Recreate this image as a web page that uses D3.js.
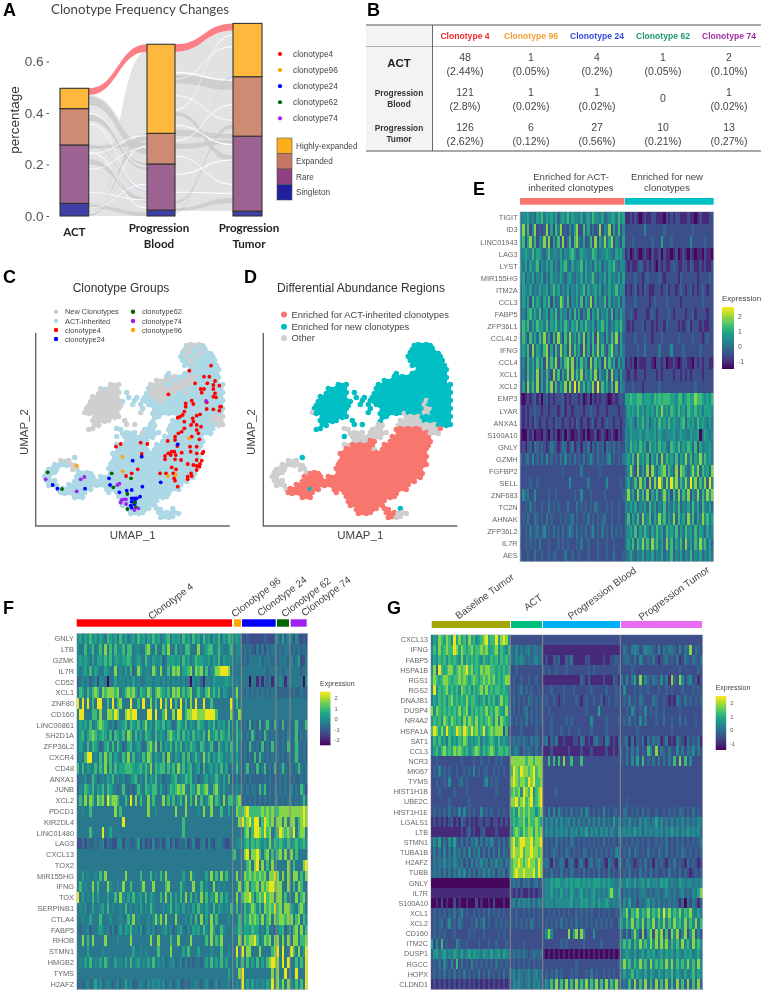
<!DOCTYPE html>
<html><head><meta charset="utf-8">
<script src="https://cdn.jsdelivr.net/npm/d3@7"></script>
<style>
html,body{margin:0;padding:0;background:#fff}
svg{display:block;filter:blur(0.45px)}
text{font-family:"Liberation Sans",Arial,sans-serif}
</style></head><body><svg id="fig" width="763" height="992"></svg>
<script>
// ---------- Panel A data
const stages=["ACT","Progression Blood","Progression Tumor"];
const stageLabels=[["ACT"],["Progression","Blood"],["Progression","Tumor"]];
const groupNames=["Singleton","Rare","Expanded","Highly-expanded"];
const groupTops={ACT:[.049,.276,.417,.496],"Progression Blood":[.023,.202,.321,.667],"Progression Tumor":[.019,.31,.541,.748]};
const yTicksA=[0,.2,.4,.6];
// [left low, left high, right low, right high]
const flowsPale1=[[0,.02,.33,.64],[0,.05,0,.33],[.05,.28,0,.30]];
const flowsDark1=[[.43,.465,.24,.28],[.37,.395,.18,.205],[.262,.272,.27,.285],[.20,.22,.055,.07],[.03,.045,.0,.015],[.0,.008,.295,.32]];
const flowsPaleUp1=[[.28,.47,.02,.30]];
const streaks1=[[.395,.4,.19,.195],[.355,.36,.10,.105],[.245,.249,.03,.035],[.24,.244,.31,.315],[.09,.093,.06,.065],[.03,.033,.12,.125],[.01,.013,.27,.275],[.18,.184,.265,.268]];
const flowsPale2=[[.02,.64,.02,.72]];
const flowsDark2=[[.515,.548,.49,.525],[.31,.335,.30,.318],[.39,.405,.21,.235],[.05,.058,.34,.355],[.02,.03,.05,.07],[.26,.28,.28,.295]];
const streaks2=[[.553,.56,.525,.53],[.41,.415,.70,.706],[.465,.469,.37,.374],[.35,.354,.275,.28],[.29,.294,.43,.435],[.23,.234,.12,.125],[.09,.094,.085,.09],[.16,.164,.215,.22],[.53,.533,.655,.66]];
const clonoFlows=[[.47,.496,.638,.667],[.638,.667,.72,.748]];
const blueFlows=[[.273,.275,.099,.101],[.013,.015,.539,.541]];
const clonotypeNames=["clonotype4","clonotype96","clonotype24","clonotype62","clonotype74"];
// ---------- Panel B data
const tableCols=["Clonotype 4","Clonotype 96","Clonotype 24","Clonotype 62","Clonotype 74"];
const tableCounts=[[48,1,4,1,2],[121,1,1,0,1],[126,6,27,10,13]];
const tablePcts=[["2.44%","0.05%","0.2%","0.05%","0.10%"],["2.8%","0.02%","0.02%",null,"0.02%"],["2.62%","0.12%","0.56%","0.21%","0.27%"]];
// ---------- Panels C, D: UMAP occupancy, one row per line: [row, first column, last column, class]
const umapSpans=[
[2,37,41,"n"],[3,37,42,"n"],[4,36,43,"n"],[5,36,44,"n"],[6,36,44,"n"],[7,37,45,"n"],[8,38,45,"n"],
[9,33,33,"n"],[9,37,45,"n"],[10,32,45,"n"],[11,30,45,"n"],[12,18,20,"n"],[12,28,46,"n"],[13,16,20,"n"],[13,28,46,"n"],
[14,15,20,"n"],[14,22,22,"n"],[14,27,46,"n"],[15,14,20,"n"],[15,23,23,"n"],[15,25,25,"n"],[15,27,46,"n"],
[16,13,21,"n"],[16,24,24,"n"],[16,26,39,"n"],[16,40,40,"o"],[16,41,46,"n"],
[17,13,21,"n"],[17,24,24,"n"],[17,26,26,"n"],[17,28,39,"n"],[17,40,40,"o"],[17,41,46,"n"],
[18,12,20,"n"],[18,26,26,"n"],[18,29,39,"n"],[18,40,41,"o"],[18,42,46,"n"],
[19,12,12,"o"],[19,13,20,"n"],[19,26,26,"n"],[19,29,34,"n"],[19,35,35,"o"],[19,36,39,"n"],[19,40,41,"o"],[19,42,46,"n"],
[20,14,20,"n"],[20,29,30,"n"],[20,35,38,"o"],[20,39,46,"n"],
[21,14,18,"n"],[21,22,22,"n"],[21,29,29,"n"],[21,34,39,"o"],[21,40,46,"n"],
[22,14,15,"n"],[22,22,22,"n"],[22,24,24,"n"],[22,28,29,"o"],[22,33,42,"o"],[22,43,46,"n"],
[23,13,14,"n"],[23,20,21,"o"],[23,27,29,"o"],[23,33,39,"a"],[23,40,43,"o"],[23,44,44,"a"],
[24,21,24,"o"],[24,26,30,"o"],[24,33,40,"a"],[24,41,43,"o"],
[25,20,20,"n"],[25,22,29,"o"],[25,32,41,"a"],
[26,22,25,"o"],[26,26,27,"a"],[26,31,41,"a"],
[27,20,21,"o"],[27,22,27,"a"],[27,30,41,"a"],
[28,20,26,"a"],[28,27,27,"o"],[28,29,40,"a"],
[29,19,40,"a"],[30,9,9,"n"],[30,19,40,"a"],[31,6,8,"o"],[31,19,40,"a"],
[32,4,9,"o"],[32,18,40,"a"],[33,3,5,"o"],[33,9,10,"o"],[33,18,39,"a"],
[34,2,4,"o"],[34,10,10,"o"],[34,11,13,"a"],[34,18,39,"a"],
[35,2,3,"o"],[35,10,14,"a"],[35,16,39,"a"],
[36,2,4,"o"],[36,9,15,"a"],[36,16,37,"a"],
[37,3,5,"o"],[37,8,15,"a"],[37,16,36,"a"],
[38,5,5,"o"],[38,6,10,"a"],[38,11,11,"n"],[38,12,13,"a"],[38,17,35,"a"],
[39,6,12,"a"],[39,18,18,"a"],[39,20,33,"a"],[40,9,11,"a"],[40,20,32,"a"],
[41,21,30,"a"],[42,21,29,"a"],[43,23,28,"a"],[43,30,31,"a"],[43,34,34,"n"],
[44,23,26,"a"],[44,30,32,"a"],[44,33,35,"o"],[45,31,32,"a"],[45,33,34,"o"]
];
// cells of panel C that belong to New Clonotypes: [row, first column, last column]
const newClonotypeSpans=[
[2,38,40],[3,37,38],[3,41,41],[4,37,38],[4,41,41],[5,37,37],[5,40,40],[6,38,38],[7,39,39],
[10,33,34],[10,38,39],[11,30,33],[11,36,39],[12,18,20],[12,28,31],[12,34,38],[13,16,16],[13,18,20],[13,29,37],
[14,15,20],[14,28,34],[14,37,37],[15,14,20],[15,29,33],[16,13,20],[16,30,31],[17,13,21],[18,12,20],[19,12,20],[19,26,26],
[20,14,20],[20,44,46],[21,14,18],[21,22,22],[21,44,46],[22,14,15],[22,22,22],[22,24,24],[22,45,46],[23,13,14],
[24,25,26],[31,6,8],[32,8,9],[33,9,10]
];
const clonotype4Pts=[[568,392],[633,377],[612,410],[628,410],[585,430],[645,423],[622,430],[640,435],[658,437],[602,447],[612,447],[605,458],[640,447],[645,460],[640,470],[648,472],[505,463],[575,482],[557,490],[580,492],[620,487],[660,500],[663,500],[620,507],[640,508],[658,512],[557,500],[553,515],[548,525],[540,530],[533,533],[600,523],[590,527],[553,545],[578,535],[580,545],[573,555],[590,555],[603,560],[553,565],[545,575],[535,580],[590,570],[595,580],[525,590],[575,590],[598,598],[503,603],[525,600],[362,612],[422,608],[442,612],[348,620],[590,620],[570,620],[532,618],[610,635],[515,635],[523,635],[505,640],[495,648],[512,645],[527,645],[545,638],[572,635],[590,640],[607,640],[495,658],[525,658],[543,660],[425,642],[563,672],[590,660],[605,662],[600,672],[590,678],[598,680],[580,675],[515,682],[528,688],[480,700],[498,700],[520,700],[573,700],[590,690],[563,710],[575,708],[522,715],[525,722],[563,718],[533,740],[413,688],[395,700],[378,708]];
const clonotype96Pts=[[230,677],[367,650],[368,694],[503,708],[527,705],[567,595]];
const clonotype24Pts=[[533,613],[398,662],[425,650],[327,715],[482,727],[330,735],[358,757],[380,752],[395,750],[427,740],[158,735],[172,746],[255,746],[420,770],[395,775],[403,775],[410,775],[395,785],[405,785],[392,797],[395,803],[403,793]];
const clonotype62Pts=[[143,697],[335,700],[393,715],[340,742],[186,747],[382,762],[405,788],[408,802],[382,807]];
const clonotype74Pts=[[137,718],[242,718],[253,711],[230,754],[352,735],[358,731],[618,483],[362,788],[372,778],[378,778],[378,792],[403,810],[415,805],[365,780]];
// ---------- Heatmap level key: each digit of a row is one cell's expression level
const levelKey=[0,1,2,3,4,5,6,7,8,9];
const levelColorPos=[.02,.12,.24,.32,.4,.48,.58,.68,.82,.97];
// ---------- Panel E
const genesE=["TIGIT","ID3","LINC01943","LAG3","LYST","MIR155HG","ITM2A","CCL3","FABP5","ZFP36L1","CCL4L2","IFNG","CCL4","XCL1","XCL2","EMP3","LYAR","ANXA1","S100A10","GNLY","GZMH","FGFBP2","SELL","ZNF683","TC2N","AHNAK","ZFP36L2","IL7R","AES"];
const levelsE=[
"455645365746564635657465546356475546345664756|1121210121122111021212211121101211122",
"483725823238262748232536822736242382548263725|2222222252222222322222222222322222222",
"572683725483826372824727843623728264836825426|2223222222232226222322222225222223222",
"456547466435745546354675346554476345565436564|1201210121021120211012012102101102110",
"546364573546463536574364557364536463546574355|2121123212121021211232112213211212112",
"463546354635364546435643546364574354636454636|2222322123222232122222132222221222232",
"365463546456357463546354645736456463546457455|1212312132112221231221232123121232122",
"364627465364726348637254637264826354726354625|2222322222123222232222212222222232222",
"353674647356264736452637362537264735463725364|2232122221232122223212222122312222122",
"475736475647365746475365736475463657463546574|2121222312212122132222121231222121122",
"375274637483627385273846374826372845263748263|2222322232212223222222322222322212322",
"464728365378262738462837462836274837426835264|2222232242222242222522223222222322222",
"352746374628374826378482637462837462837462635|1212021112210221201121012211021212211",
"342746382637428372648283748264738264372835263|2122122212222121222212212121222212222",
"262847382637482736482839284736482937463728254|2223222122222232222222222222232222222",
"101212312023121222312122212012021212210121232|6676677566657676777665775676687765657",
"212122322122122212312212222122322122212222122|4656575646564758564765756476575646665",
"212121321221221322122121321221231221232212212|4565365746356475647565467365647565464",
"100212011021021201202101121020112012101210212|5465556456556465455564565546556046545",
"121231432321243212431241231324132423143242322|5475647563756475643765746576372645564",
"323425232425232324252324232423532423245232324|5647385647264738475647365847365847564",
"222222222222222222322222224222222232222222222|3585283638285367837538287536858375638",
"222232232222222222222522222224222222252222232|4634738472838497384968375849583748395",
"253422522222322322222223225222322222322222223|4846384738264735846274837482648374858",
"223242322322423232224222423232324322232322322|5464635463746354735464735463746375463",
"232422432324232223232342322324232323422322322|4736473845736485736483746384736485746",
"323242342352324232423532423242352324232423232|4564736475364756375647364756374653645",
"223232324222322232323222324223222322232232222|4647375847385746384736473846374857463",
"322322422322323322242232232223222322232242223|3464354635463546354735463547354635464"];
const groupsE=["Enriched for ACT-inherited clonotypes","Enriched for new clonotypes"];
// ---------- Panel F
const genesF=["GNLY","LTB","GZMK","IL7R","CD52","XCL1","ZNF80","CD160","LINC00861","SH2D1A","ZFP36L2","CXCR4","CD48","ANXA1","JUNB","XCL2","PDCD1","KIR2DL4","LINC01480","LAG3","CXCL13","TOX2","MIR155HG","IFNG","TOX","SERPINB1","CTLA4","FABP5","RHOB","STMN1","HMGB2","TYMS","H2AFZ"];
const levelsF=[
"56465756465476564756456475646575645674656475647564756465746576|565|22322222232223|53635|4253232",
"54474574574847475574774554478547447584474547744484567745754457|455|34343242424344|34344|3434343",
"56565464665757466566764565475465563466656475645766556465746555|454|34344445344434|34443|5346224",
"54564746544654484546473486455486484474878466784878474568899984|444|44444444443444|44344|4444344",
"34545345255404464554546454455545545454545454405453155465555655|454|44404414143414|45414|4444405",
"47647578748788878457878647658747876574878575784575478575746544|584|43434343434344|33333|3433433",
"94949474994474947844494474944847494849474947484944944744444449|474|44444444444444|44444|4444444",
"49944477484488798448989944449949447944849947889988899997444448|448|44444444444444|44444|4444444",
"46564745787654535567476574685647657465347657465476546574656474|474|34373437347437|43734|3474347",
"46746787567647376574874756476547565478657475647565748567476574|475|43437434374343|43435|3473434",
"46547476534674747534674565347858374657475746576547645743754647|474|34374343734373|43437|3474343",
"45479945474857465475847454758746547385465474745754857465764546|464|34343737434343|43434|3474343",
"74746547475847475667776567575847677475748574674563745646474634|474|34734373473437|34743|4347434",
"34453475345465745453456745474657453445674557674534564557546473|353|34343333343433|34343|3433434",
"35476574657476543474343475476577464357678785476586785478546444|454|43434437473434|34343|5343752",
"47484874878497887447494847448474448474745748474847457847648477|578|34343434343434|43434|4343474",
"44544744444444484744444444448445444444484448444454844844474464|487|78977777878787|78888|8888898",
"44444444444444444494444444444444444444444474444444444444444444|448|97897994798784|88484|8847898",
"44444744449446444444444444444444444444444474444444444444444444|444|47847998797845|79878|7947884",
"22424334345243225524433462423252342452423435235224525324543224|455|56757676565857|67657|5675675",
"44444444444444444444444444444444444444444444444444444444444444|744|48948897478474|78484|8474444",
"44444444444444444444444444444444444444444444444444444444444444|444|44784894847484|44448|4744489",
"44645445474844444448444447444745474844444464485444464847484744|484|48787878784889|84848|4884748",
"47454484744485445484474445844484444784444754448447454484545444|458|47847784878998|88448|4748744",
"94645474644464474854647456474654474847464748474648474658474644|484|78897478797884|88474|4484784",
"45453464456474544547454546454754445457465464546475465474654547|474|47568757487879|78488|6547864",
"44544644474445444544748454445458584844484445464748464847444454|447|47687875847848|78878|8478475",
"43445344565453534646574546345453445645345643546564754864475444|557|56657664547442|56735|4784847",
"44847484444844445444484444444844844447448444484444474847584444|448|48788974587848|84848|4884778",
"44446444445444444444446445454444744448444464744464444544474454|494|94884448444478|94944|9748469",
"45464745464754464546474564546474545345534535343443464746474644|474|74746474647899|84949|4474749",
"44444444444444444444444444444444444444444444444444444444444464|448|94444444444484|84494|4494449",
"34345346453454345346453345435454545345345334344543454345344453|454|94646454546594|85848|5474749"];
const groupsF=["Clonotype 4","Clonotype 96","Clonotype 24","Clonotype 62","Clonotype 74"];
// ---------- Panel G
const genesG=["CXCL13","IFNG","FABP5","HSPA1B","RGS1","RGS2","DNAJB1","DUSP4","NR4A2","HSPA1A","SAT1","CCL3","NCR3","MKI67","TYMS","HIST1H1B","UBE2C","HIST1H1E","LGALS1","LTB","STMN1","TUBA1B","H2AFZ","TUBB","GNLY","IL7R","S100A10","XCL1","XCL2","CD160","ITM2C","DUSP1","RGCC","HOPX","CLDND1"];
const levelsG=[
"46587687596867586756789677968985|2222222222222|2222222222222222222222222222222|222222222222222222222222222222222",
"57586787798687678677878667857657|4353434534434|1111111111111111111111111111111|2432454235443252434432524382432",
"46576757676585767676576576757676|4354543434534|1211323113241111122111112112232|2343242532324212342324124324324",
"58397678867878978676878877676767|2232222222222|3232232223222222223232222222223|2222322222222222222222322222232",
"68767887677878767876787878676788|2322322322322|1111111111111113213111112111321|4252462825324325241832852452312",
"59576786767587675767868676776765|2323423232232|2223222232223222222322222322232|2522232322322232232322232223232",
"46576757867676867765675767568675|2423232432323|2322321232222321232232231232232|2324232432224322321214324232323",
"85876767676867857676768676876585|2323234232323|2232222222222222232222622222222|2232532325232322322222322222222",
"57675876876758687686767875858765|3232324232323|2223222223232222222522222322223|2324232524222322422322423222322",
"79868697679879879786796787888272|2222322222322|2223222322322232222322222322222|2222223222222222222322222222222",
"47575647565768756567465676575654|3434343243432|3413241121112214312134221431213|2341413241424341241214321423241",
"46757867687876756787576787577676|3453243432423|1112111111211112111211111211212|3242424232752824324225242435242",
"22322222222232222322322322323222|8888887887888|2272727282272227222222222222222|3242526272324242424272827252222",
"23252323223223232523233223232322|7987988789788|2222222222222222222222222222222|2222222222222222222222222222222",
"22322325222342322222235232322222|8987887989778|2222222222222222222222222222222|2222222222222222222222222222222",
"22232222232222322222222222322222|7878598795789|2222232222222222222222222222222|2222222222222222222222222222222",
"22222223222222232222222222222222|8897897896789|2222222222222222222222222222222|2232222222222222222222222222222",
"23232324232525232322523232232322|6758787877578|3252525323242324253232325232332|2432323242322322323232432324232",
"12121212312142121212212212212121|6767786877876|3535353534535353435353535343635|3435343535434635343534353534354",
"11111111111121231211231111211111|5787687886878|3545354545354535463545354535436|4545464535454545354645354645453",
"35362425363242424352424353242424|8978998897889|2323242323243232323232324232323|3232323232322323242323232323234",
"24242524253424252435242424252432|8988978898878|2323432324323232432323232323254|2324243232423243242323243232323",
"24343534354342425243534243534243|7889878988798|3431423431342134213423432143215|3243212324231323213242321423212",
"34342424243535242424353534243424|7898898889798|2324232423243232423232423242323|2324232423242322324232423212323",
"00000000000000000000000000000000|3434243423423|4546566556565665656566656565545|5465464564645546564544654554545",
"11111111111111111111111111111111|2121211212122|4546454645465456454564545468546|2434343454343443454343453435468",
"00102010020100100020100102000100|4535454535354|4555455555564546564564655654545|3536342434635353434343130424313",
"23232323242352322323232423232322|3232232323232|2232323232322323232322323232232|5684768576857685968576857685464",
"23234235232432223242352322323232|3232323243232|2323232423232423232323232323224|6475847584758475847586758475847",
"23232322232222232322232222232322|2222222222222|2585222222826828522252222222222|4252585282682858272858258258252",
"62527232225322322223222322322232|2222232222222|2222222323222222322222232222223|5757475857585848584757485748575",
"35645645465464564655465464564654|3434343234334|1010101010101010101010101010101|4565464564656456465646546564564",
"23242532527242325232323232423232|2323232323232|2222222222222322222222222222223|5857475857485757485847575857485",
"23232423242324232324232423232423|4535434534534|2323242322232322232423223232322|4645746546465465465746546457465",
"12121212121212121212121212121212|3545434535453|3537383738373837483748373837483|3437383738373837383738373837383"];
const groupsG=["Baseline Tumor","ACT","Progression Blood","Progression Tumor"];

// ---------- Drawing
const svg=d3.select("#fig");
const lato='Lato,"Liberation Sans",sans-serif';
const txt=(g,x,y,s,o={})=>g.append("text").attr("x",x).attr("y",y).text(s)
  .attr("font-size",o.size||10).attr("fill",o.fill||"#444").attr("text-anchor",o.anchor||"start")
  .attr("font-weight",o.weight||null).style("font-family",o.family||null)
  .attr("transform",o.rot!=null?`rotate(${o.rot},${x},${y})`:null).attr("dominant-baseline",o.base||null);
[["A",3,16],["B",367,16],["C",3,283],["D",244,283],["E",473,195],["F",3,614],["G",387,614]]
 .forEach(d=>txt(svg,d[1],d[2],d[0],{size:18,weight:"bold",fill:"#000"}));

// --- A
(function(){
 const g=svg.append("g");
 const y=d3.scaleLinear([0,.748],[216,23.4]);
 const xBand={ACT:[60,88.7],"Progression Blood":[147,175],"Progression Tumor":[233,262]};
 const labelNudge={ACT:0,"Progression Blood":-2,"Progression Tumor":1.5};
 const area=(x0,x1)=>d=>d3.area().x(p=>p.x).y0(p=>y(p.a)).y1(p=>y(p.b)).curve(d3.curveBumpX)
   ([{x:x0,a:d[0],b:d[1]},{x:x1,a:d[2],b:d[3]}]);
 const [l1,r1]=[xBand.ACT[1],xBand["Progression Blood"][0]],[l2,r2]=[xBand["Progression Blood"][1],xBand["Progression Tumor"][0]];
 const draw=(data,x0,x1,fill,op)=>g.append("g").selectAll("path").data(data).join("path").attr("d",area(x0,x1)).attr("fill",fill).attr("opacity",op);
 draw(flowsPaleUp1,l1,r1,"#e2e2e2",.85);
 draw(flowsPale1,l1,r1,"#e2e2e2",.95);
 draw(flowsPale2,l2,r2,"#e2e2e2",1);
 draw(flowsDark1,l1,r1,"#c8c8c8",.75);
 draw(flowsDark2,l2,r2,"#c8c8c8",.75);
 draw(streaks1,l1,r1,"#fff",.85);
 draw(streaks2,l2,r2,"#fff",.85);
 draw([blueFlows[0]],l1,r1,"#9a9aff",.6);
 draw([blueFlows[1]],l2,r2,"#9a9aff",.7);
 draw([clonoFlows[0]],l1,r1,"#fb7f84",1);
 draw([clonoFlows[1]],l2,r2,"#fb7f84",1);
 const fills=["#3f3fa8","#9c6292","#cd8b73","#fdb83e"];
 stages.forEach(s=>{let lo=0;groupTops[s].forEach((t,i)=>{
   g.append("rect").attr("x",xBand[s][0]).attr("width",xBand[s][1]-xBand[s][0]).attr("y",y(t)).attr("height",y(lo)-y(t))
    .attr("fill",fills[i]).attr("stroke","#333").attr("stroke-width",1.1);lo=t;});
   stageLabels[stages.indexOf(s)].forEach((t,k)=>txt(g,(xBand[s][0]+xBand[s][1])/2+labelNudge[s],s==="ACT"?236:232+k*15.5,t,{size:11.6,weight:"bold",fill:"#222",anchor:"middle",family:lato}));
 });
 const ax=g.append("g").attr("transform","translate(49,0)").call(d3.axisLeft(y).tickValues(yTicksA).tickFormat(d3.format(".1f")).tickSize(2.5));
 ax.select(".domain").remove();ax.selectAll("text").attr("font-size",13.5).attr("fill","#555").style("font-family","Liberation Sans");
 ax.selectAll("line").attr("stroke","#555");
 txt(g,19,120,"percentage",{size:13.5,anchor:"middle",rot:-90,fill:"#333"});
 txt(g,51,13.5,"Clonotype Frequency Changes",{size:13.3,family:lato,fill:"#444"});
 const cols=["#f00","#ffa500","#00f","#060","#a020f0"];
 const ly=d3.scalePoint(clonotypeNames,[54,118.3]);
 clonotypeNames.forEach((n,i)=>{g.append("circle").attr("cx",280).attr("cy",ly(n)).attr("r",2.1).attr("fill",cols[i]);
   txt(g,293,ly(n)+3,n,{size:8.3,fill:"#444"});});
 const lg=[...groupNames].reverse(),lf=["#fcaf1a","#c47862","#8f3f82","#1f1f9f"];
 const ls=d3.scaleBand(lg,[138,200]);
 lg.forEach((n,i)=>{g.append("rect").attr("x",277).attr("y",ls(n)).attr("width",15).attr("height",ls.bandwidth()).attr("fill",lf[i]).attr("stroke","#555").attr("stroke-width",.6);
   txt(g,296,ls(n)+10.5,n,{size:8.2,fill:"#444"});});
})();

// --- B
(function(){
 const g=svg.append("g");
 g.append("rect").attr("x",366).attr("y",25).attr("width",66.5).attr("height",126).attr("fill","#f3f3f3");
 const ln=(x1,y1,x2,y2,c,w)=>g.append("line").attr("x1",x1).attr("y1",y1).attr("x2",x2).attr("y2",y2).attr("stroke",c).attr("stroke-width",w);
 ln(366,25,761,25,"#a8a8a8",1.8);ln(366,46.5,761,46.5,"#999",.8);ln(366,151,761,151,"#a8a8a8",1.8);ln(432.5,25,432.5,151,"#444",.8);
 const x=d3.scalePoint(tableCols,[465,729]);
 const hc=["#ef2b2b","#f5a033","#2f4ce0","#1e9a6a","#a02fa0"];
 tableCols.forEach((c,i)=>txt(g,x(c),39,c,{size:8.6,weight:"bold",fill:hc[i],anchor:"middle"}));
 const rowY=[57,91.7,126.7];
 txt(g,399,67,"ACT",{size:11.5,weight:"bold",anchor:"middle",fill:"#222"});
 [["Progression","Blood"],["Progression","Tumor"]].forEach((r,i)=>r.forEach((t,k)=>txt(g,399,96+i*35+k*11,t,{size:8.3,weight:"bold",anchor:"middle",fill:"#333"})));
 tableCounts.forEach((row,r)=>row.forEach((v,c)=>{
   const p=tablePcts[r][c],cx=x(tableCols[c]);
   if(p===null){txt(g,cx,102,v,{size:10.5,anchor:"middle"});return;}
   txt(g,cx,rowY[r]+4,v,{size:10.5,anchor:"middle"});
   txt(g,cx,rowY[r]+18,`(${p})`,{size:10.5,anchor:"middle"});
 }));
})();

// --- C, D
(function(){
 const cellU=c=>107+12*c+6,cellV=r=>285+12*r+6;
 const cells=[];umapSpans.forEach(([r,a,b,k])=>{for(let c=a;c<=b;c++)cells.push({r,c,k});});
 const isNew=new Set();newClonotypeSpans.forEach(([r,a,b])=>{for(let c=a;c<=b;c++)isNew.add(r+"_"+c);});
 const panel=(ox,title,titleX)=>{
   const g=svg.append("g");
   const x=d3.scaleLinear([107,695],[ox,ox+196]),y=d3.scaleLinear([285,858],[335,526]);
   g.append("path").attr("d",d3.line()([[ox,333],[ox,526],[ox+194,526]])).attr("fill","none").attr("stroke","#666").attr("stroke-width",1.4);
   txt(g,ox+97,538.5,"UMAP_1",{size:11.5,anchor:"middle",fill:"#444"});
   txt(g,ox-8,432,"UMAP_2",{size:11.5,anchor:"middle",rot:-90,fill:"#444"});
   txt(g,titleX,292,title,{size:12,anchor:"middle",fill:"#333"});
   return {g,x,y};
 };
 const cx=(s,d)=>s(cellU(d.c)+(d.r%2?-3:3));
 const cy=(s,d)=>s(cellV(d.r)+(d.c%2?1.5:-1.5));
 // C
 const C=panel(35.7,"Clonotype  Groups",121);
 C.g.append("g").selectAll("circle").data(cells).join("circle")
   .attr("cx",d=>cx(C.x,d)).attr("cy",d=>cy(C.y,d)).attr("r",2.75)
   .attr("fill",d=>isNew.has(d.r+"_"+d.c)?"#cfcfcf":"#add8e6");
 const sets=[[clonotype4Pts,"#f00"],[clonotype24Pts,"#00f"],[clonotype62Pts,"#060"],[clonotype74Pts,"#a020f0"],[clonotype96Pts,"#ffa500"]];
 sets.forEach(([pts,col])=>C.g.append("g").selectAll("circle").data(pts).join("circle")
   .attr("cx",d=>C.x(d[0])).attr("cy",d=>C.y(d[1])).attr("r",1.9).attr("fill",col));
 [["New Clonotypes","#cfcfcf",56,311.7],["ACT-inherited","#add8e6",56,321],["clonotype4","#f00",56,330],["clonotype24","#00f",56,339],
  ["clonotype62","#060",133,311.7],["clonotype74","#a020f0",133,321],["clonotype96","#ffa500",133,330]].forEach(d=>{
   C.g.append("circle").attr("cx",d[2]).attr("cy",d[3]).attr("r",2.2).attr("fill",d[1]);
   txt(C.g,d[2]+9,d[3]+2.6,d[0],{size:7.4,fill:"#444"});});
 // D
 const D=panel(263.3,"Differential Abundance  Regions",361);
 const col={a:"#f8766d",n:"#00bfc4",o:"#cfcfcf"};
 D.g.append("g").selectAll("circle").data(cells).join("circle")
   .attr("cx",d=>cx(D.x,d)).attr("cy",d=>cy(D.y,d)).attr("r",2.75).attr("fill",d=>col[d.k]);
 [["Enriched for ACT-inherited clonotypes",col.a,284,314.5],["Enriched for new clonotypes",col.n,284,326.7],["Other",col.o,284,338]].forEach(d=>{
   D.g.append("circle").attr("cx",d[2]).attr("cy",d[3]).attr("r",3).attr("fill",d[1]);
   txt(D.g,291.5,d[3]+3.2,d[0],{size:9.4,fill:"#444"});});
})();

// --- heatmaps
let gid=0;
const levelPos=d3.scaleLinear(levelKey,levelColorPos);
function heatmap(o){
 const g=svg.append("g");
 const yB=d3.scaleBand(o.genes,[o.y0,o.y1]);
 const col=d=>d3.interpolateViridis(levelPos(d));
 const cells=[];
 o.levels.forEach((row,r)=>row.split("|").forEach((seg,s)=>{
   const band=d3.scaleBand(d3.range(seg.length),[o.splits[s],o.splits[s+1]]);
   seg.split("").forEach((ch,i)=>cells.push({x:band(i),w:band.bandwidth(),y:yB(o.genes[r]),v:+ch}));
 }));
 g.append("g").attr("shape-rendering","crispEdges").selectAll("rect").data(cells).join("rect").attr("x",d=>d.x).attr("y",d=>d.y).attr("width",d=>d.w+.5).attr("height",yB.bandwidth()+.5).attr("fill",d=>col(d.v));
 o.splits.slice(1,-1).forEach(sx=>{ if(o.sep) g.append("line").attr("x1",sx).attr("x2",sx).attr("y1",o.y0).attr("y2",o.y1).attr("stroke","#8a8a8a").attr("stroke-width",1);});
 g.append("rect").attr("x",o.splits[0]).attr("y",o.y0).attr("width",o.splits[o.splits.length-1]-o.splits[0]).attr("height",o.y1-o.y0).attr("fill","none").attr("stroke","#c4c4d4").attr("stroke-width",.7);
 o.genes.forEach(n=>txt(g,o.labelX,yB(n)+yB.bandwidth()/2+o.labelSize*.36,n,{size:o.labelSize,anchor:"end",fill:"#666"}));
 o.bars.forEach(b=>g.append("rect").attr("x",b[0]).attr("width",b[1]-b[0]).attr("y",o.barY[0]).attr("height",o.barY[1]-o.barY[0]).attr("fill",b[2]));
 // legend
 const L=o.legend,id="grad"+(gid++),v=d3.scaleLinear([L.vBot,L.vTop],[L.y1,L.y0]);
 const grad=svg.append("defs").append("linearGradient").attr("id",id).attr("x1",0).attr("x2",0).attr("y1",1).attr("y2",0);
 d3.range(0,1.01,.1).forEach(t=>grad.append("stop").attr("offset",t).attr("stop-color",d3.interpolateViridis(t)));
 g.append("rect").attr("x",L.x).attr("y",L.y0).attr("width",L.w).attr("height",L.y1-L.y0).attr("fill",`url(#${id})`);
 txt(g,L.x,L.y0-6,"Expression",{size:L.title,fill:"#444"});
 L.ticks.forEach(t=>txt(g,L.x+L.w+4,v(t)+2.5,t,{size:L.tick,fill:"#555"}));
 return g;
}
heatmap({genes:genesE,levels:levelsE,splits:[520,624.7,713.7],y0:211.7,y1:561.7,labelX:517.7,labelSize:7.4,sep:false,
 barY:[198,204.7],bars:[[520,624.5,"#f8766d"],[625,713.7,"#00bfc4"]],
 legend:{x:722,w:12,y0:307,y1:369,vBot:-1.46,vTop:2.6,ticks:[2,1,0,-1],title:7.9,tick:6.8}});
[["Enriched for ACT-",571,179.5],["inherited clonotypes",571,191],["Enriched for new",667,179.5],["clonotypes",667,191]].forEach(d=>txt(svg,d[1],d[2],d[0],{size:9.6,anchor:"middle",fill:"#444"}));
const gF=heatmap({genes:genesF,levels:levelsF,splits:[76.7,232.7,241.3,276,290,307.7],y0:633.3,y1:989.3,labelX:74,labelSize:7.4,sep:true,
 barY:[619.3,626.7],bars:[[76.7,232,"#f00"],[234,241,"#ffa500"],[242,275.7,"#00f"],[277,289,"#060"],[290.7,306.7,"#a020f0"]],
 legend:{x:320,w:10.5,y0:691.7,y1:745.3,vBot:-2.5,vTop:2.55,ticks:[2,1,0,-1,-2],title:7,tick:5.8}});
[[172.7,604],[258,600],[284,599],[308,600],[328,599]].forEach((d,i)=>txt(svg,d[0],d[1],groupsF[i],{size:10,anchor:"middle",rot:-37,fill:"#444"}));
heatmap({genes:genesG,levels:levelsG,splits:[430.7,510.3,542.7,620.3,702.7],y0:634.7,y1:989.3,labelX:428,labelSize:7.2,sep:true,
 barY:[621,628],bars:[[431.7,510,"#a3a500"],[511,542,"#00bf7d"],[543,620,"#00b0f6"],[621,702,"#e76bf3"]],
 legend:{x:715.7,w:10.5,y0:696,y1:750,vBot:-1.43,vTop:2.43,ticks:[2,1,0,-1],title:7,tick:5.8}});
[[486.7,599],[535,605],[604,596],[676,596]].forEach((d,i)=>txt(svg,d[0],d[1],groupsG[i],{size:10,anchor:"middle",rot:-36,fill:"#444"}));
</script></body></html>
